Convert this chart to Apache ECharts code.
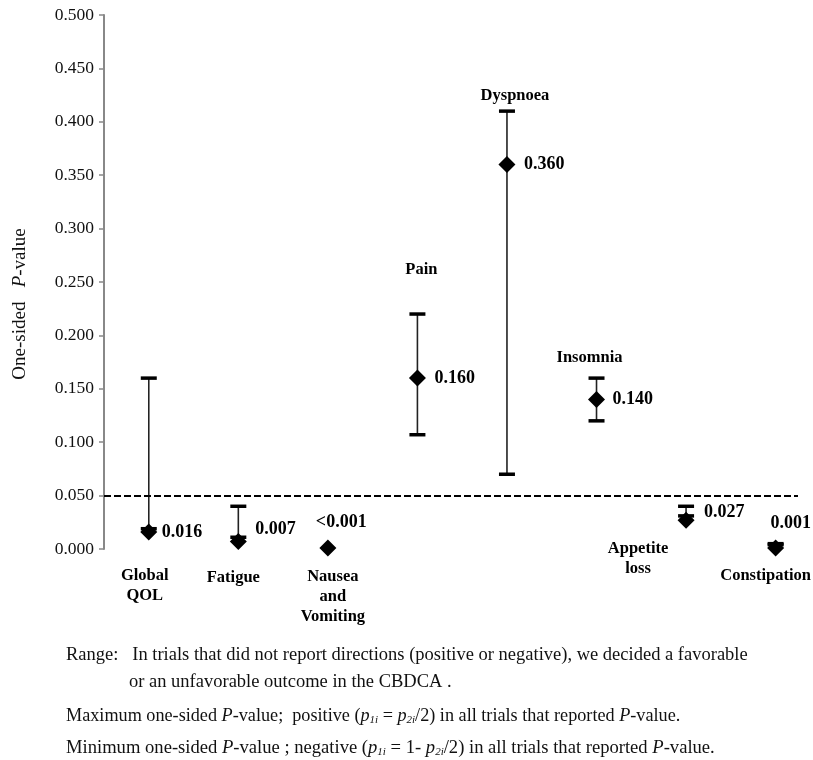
<!DOCTYPE html>
<html>
<head>
<meta charset="utf-8">
<script src="https://cdn.jsdelivr.net/npm/echarts@6/dist/echarts.min.js"></script>
<style>
  html, body { margin: 0; padding: 0; background: #fff; }
  #main { width: 813px; height: 760px; }
</style>
</head>
<body>
<div id="main"></div>
<script>
// data
const categories = ['Global\nQOL', 'Fatigue', 'Nausea\nand\nVomiting', 'Pain', 'Dyspnoea', 'Insomnia', 'Appetite\nloss', 'Constipation'];
const pValues = [0.016, 0.007, 0.001, 0.160, 0.360, 0.140, 0.027, 0.001];
const pLabels = ['0.016', '0.007', '<0.001', '0.160', '0.360', '0.140', '0.027', '0.001'];
const maxP = [0.160, 0.040, null, 0.220, 0.410, 0.160, 0.040, 0.005];
const minP = [0.019, 0.011, null, 0.107, 0.070, 0.120, 0.031, 0.004];
const threshold = 0.05;

// label placement (pixels, relative to the diamond centre)
const valueOffsets = [[13, 0], [17, -12], [-12, -26], [17, 0], [17, 0], [16, 0], [18, -8], [-5, -25]];
const nameOffsets = [[-4, 54], [-5, 36], [5, 49], [4, -108], [8, -69], [-7, -42], [-48, 39], [-10, 28]];

const serif = '"Liberation Serif", "Times New Roman", serif';

const chart = echarts.init(document.getElementById('main'));

const option = {
  animation: false,
  backgroundColor: '#fff',
  grid: { left: 104, right: 15, top: 15, bottom: 211 },
  xAxis: {
    type: 'value',
    min: -0.5,
    max: 7.25,
    show: false
  },
  yAxis: {
    type: 'value',
    min: 0,
    max: 0.5,
    interval: 0.05,
    splitLine: { show: false },
    axisLine: { show: true, onZero: false, lineStyle: { color: '#888', width: 2 } },
    axisTick: { show: true, length: 5, lineStyle: { color: '#888', width: 1.5 } },
    axisLabel: {
      margin: 10,
      color: '#111',
      fontFamily: serif,
      fontSize: 17.5,
      formatter: v => v.toFixed(3)
    }
  },
  series: [
    {
      // range whiskers
      type: 'custom',
      data: categories.map((c, i) => [i, minP[i], maxP[i]]).filter(d => d[1] != null),
      renderItem: (params, api) => {
        const top = api.coord([api.value(0), api.value(2)]);
        const bot = api.coord([api.value(0), api.value(1)]);
        const w = 8;
        return {
          type: 'group',
          children: [
            { type: 'line', shape: { x1: top[0], y1: top[1], x2: bot[0], y2: bot[1] },
              style: { stroke: '#222', lineWidth: 1.6 } },
            { type: 'line', shape: { x1: top[0] - w, y1: top[1], x2: top[0] + w, y2: top[1] },
              style: { stroke: '#000', lineWidth: 3.5 } },
            { type: 'line', shape: { x1: bot[0] - w, y1: bot[1], x2: bot[0] + w, y2: bot[1] },
              style: { stroke: '#000', lineWidth: 3.5 } }
          ]
        };
      },
      markLine: {
        silent: true,
        symbol: 'none',
        label: { show: false },
        lineStyle: { color: '#000', type: [7, 3], width: 2.2 },
        data: [{ yAxis: threshold }]
      },
      z: 2
    },
    {
      // point estimates
      type: 'scatter',
      symbol: 'diamond',
      symbolSize: 17,
      itemStyle: { color: '#000', opacity: 1 },
      data: pValues.map((v, i) => ({
        value: [i, v],
        label: { offset: valueOffsets[i] }
      })),
      label: {
        show: true,
        position: 'inside',
        align: 'left',
        verticalAlign: 'middle',
        color: '#000',
        fontFamily: serif,
        fontWeight: 'bold',
        fontSize: 18,
        formatter: p => pLabels[p.dataIndex]
      },
      z: 3
    },
    {
      // category names
      type: 'scatter',
      symbol: 'circle',
      symbolSize: 1,
      itemStyle: { color: 'rgba(255,255,255,0)', opacity: 1 },
      silent: true,
      data: pValues.map((v, i) => ({
        value: [i, v],
        label: { offset: nameOffsets[i] }
      })),
      label: {
        show: true,
        position: 'inside',
        align: 'center',
        verticalAlign: 'middle',
        color: '#000',
        opacity: 1,
        fontFamily: serif,
        fontWeight: 'bold',
        fontSize: 16.5,
        lineHeight: 20,
        formatter: p => categories[p.dataIndex]
      },
      z: 3
    }
  ],
  graphic: [
    {
      type: 'text',
      x: 20, y: 304,
      rotation: Math.PI / 2,
      style: {
        text: '{a|One-sided   }{i|P}{a|-value}',
        align: 'center',
        verticalAlign: 'middle',
        fill: '#111',
        rich: {
          a: { fontFamily: serif, fontSize: 19, fill: '#111' },
          i: { fontFamily: serif, fontSize: 19, fontStyle: 'italic', fill: '#111' }
        }
      }
    },
    {
      type: 'text', x: 66, y: 655,
      style: {
        text: 'Range:   In trials that did not report directions (positive or negative), we decided a favorable',
        font: '18.5px ' + serif, fill: '#111', verticalAlign: 'middle'
      }
    },
    {
      type: 'text', x: 129, y: 682,
      style: {
        text: 'or an unfavorable outcome in the CBDCA .',
        font: '18.5px ' + serif, fill: '#111', verticalAlign: 'middle'
      }
    },
    {
      type: 'text', x: 66, y: 716,
      style: {
        text: '{a|Maximum one-sided }{i|P}{a|-value;  positive (}{i|p}{s|1i}{a| = }{i|p}{s|2i}{a|/2) in all trials that reported }{i|P}{a|-value.}',
        verticalAlign: 'middle',
        rich: {
          a: { fontFamily: serif, fontSize: 18.2, fill: '#111' },
          i: { fontFamily: serif, fontSize: 18.2, fontStyle: 'italic', fill: '#111' },
          s: { fontFamily: serif, fontSize: 11, fontStyle: 'italic', fill: '#111', verticalAlign: 'bottom', padding: [8, 0, 0, 0] }
        }
      }
    },
    {
      type: 'text', x: 66, y: 748,
      style: {
        text: '{a|Minimum one-sided }{i|P}{a|-value ; negative (}{i|p}{s|1i}{a| = 1- }{i|p}{s|2i}{a|/2) in all trials that reported }{i|P}{a|-value.}',
        verticalAlign: 'middle',
        rich: {
          a: { fontFamily: serif, fontSize: 18.6, fill: '#111' },
          i: { fontFamily: serif, fontSize: 18.6, fontStyle: 'italic', fill: '#111' },
          s: { fontFamily: serif, fontSize: 11, fontStyle: 'italic', fill: '#111', verticalAlign: 'bottom', padding: [8, 0, 0, 0] }
        }
      }
    }
  ]
};

chart.setOption(option);
</script>
</body>
</html>
